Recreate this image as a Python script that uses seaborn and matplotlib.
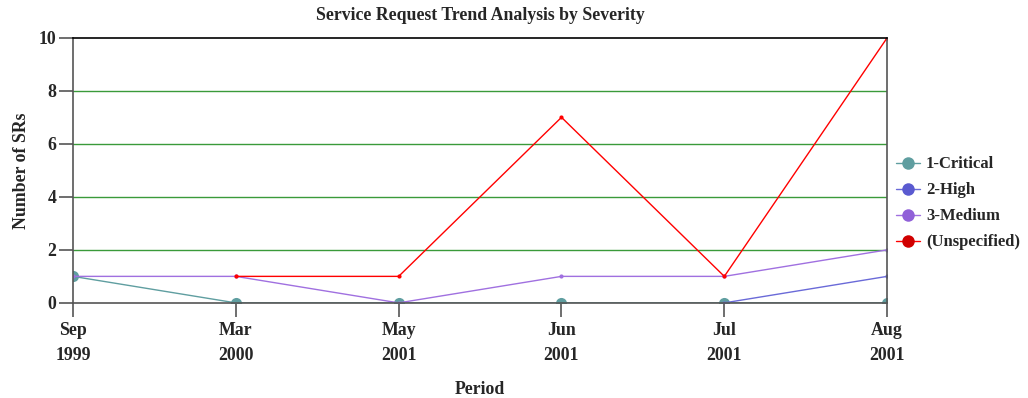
import numpy as np
import pandas as pd
import seaborn as sns
import matplotlib.pyplot as plt
from matplotlib.lines import Line2D

periods = ["Sep\n1999", "Mar\n2000", "May\n2001", "Jun\n2001", "Jul\n2001", "Aug\n2001"]
critical = [1, 0, 0, 0, 0, 0]
high = [np.nan, np.nan, np.nan, np.nan, 0, 1]
medium = [1, 1, 0, 1, 1, 2]
unspecified = [np.nan, 1, 1, 7, 1, 10]

series = ["1-Critical", "2-High", "3-Medium", "(Unspecified)"]
line_colors = ["#5f9ea0", "#6a6ad8", "#a070e0", "#ff0000"]
legend_colors = ["#5f9ea0", "#5a5ad0", "#9060d8", "#d00000"]

df = pd.DataFrame({
    "x": list(range(len(periods))) * 4,
    "value": critical + high + medium + unspecified,
    "severity": sum([[s] * len(periods) for s in series], []),
})

sns.set_style("white")
plt.rcParams["font.family"] = ["Liberation Serif", "DejaVu Serif"]
plt.rcParams["font.weight"] = "bold"
fs = 12.8

fig = plt.figure(figsize=(10.28, 3.98), dpi=100)
ax = fig.add_axes([0.071, 0.239, 0.792, 0.666])

for y in [2, 4, 6, 8]:
    ax.axhline(y, color="#3a9a3a", lw=1, zorder=0)

for s, c in zip(series, line_colors):
    sub = df[df["severity"] == s].dropna()
    big = s == "1-Critical"
    sns.lineplot(data=sub, x="x", y="value", ax=ax, color=c, lw=1,
                 marker="o", markersize=8 if big else 3,
                 markeredgewidth=0, legend=False, clip_on=True)

ax.set_xlim(0, 5)
ax.set_ylim(0, 10)
ax.set_xticks(range(len(periods)))
ax.set_xticklabels(periods, fontsize=fs, fontweight="bold", linespacing=1.6)
ax.set_yticks([0, 2, 4, 6, 8, 10])
ax.set_yticklabels([0, 2, 4, 6, 8, 10], fontsize=fs, fontweight="bold")
ax.tick_params(axis="both", direction="out", length=10, width=1.2,
               color="#555555", pad=2, bottom=True, left=True)
ax.tick_params(axis="x", pad=4)
for side in ["left", "bottom", "right"]:
    ax.spines[side].set_color("#555555")
    ax.spines[side].set_linewidth(1.2)
ax.spines["top"].set_color("black")
ax.spines["top"].set_linewidth(1.2)

ax.set_title("Service Request Trend Analysis by Severity", fontsize=fs,
             fontweight="bold", pad=13)
ax.set_xlabel("Period", fontsize=fs, fontweight="bold", labelpad=12)
ax.set_ylabel("Number of SRs", fontsize=fs, fontweight="bold", labelpad=6)

handles = [Line2D([0], [0], color=lc, lw=1, marker="o", markersize=9,
                  markerfacecolor=mc, markeredgewidth=0)
           for lc, mc in zip(line_colors, legend_colors)]
fig.legend(handles, series, loc="center left", bbox_to_anchor=(0.8716, 0.489),
           frameon=False, prop={"size": 12, "weight": "bold"},
           handlelength=1.45, handletextpad=0.35, labelspacing=0.6,
           borderpad=0, borderaxespad=0)

fig.savefig("out.png", dpi=100)
